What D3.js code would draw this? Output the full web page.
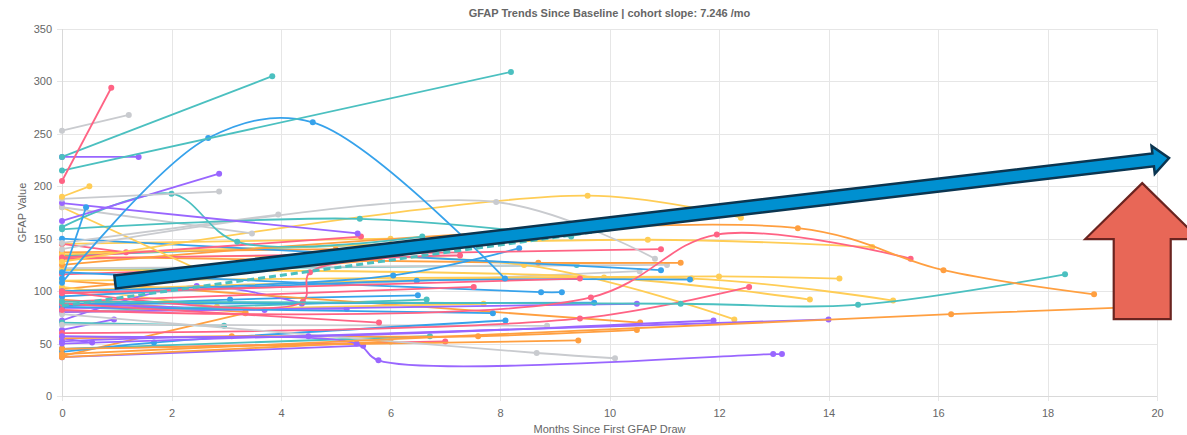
<!DOCTYPE html>
<html>
<head>
<meta charset="utf-8">
<style>
  body { margin: 0; background: #fff; }
  svg text { font-family: "Liberation Sans", Arial, Helvetica, sans-serif; fill: #666; }
</style>
</head>
<body>
<svg width="1187" height="435"></svg>
<script src="https://d3js.org/d3.v7.min.js"></script>
<script>
// ---- data ----
var chartTitle = "GFAP Trends Since Baseline | cohort slope: 7.246 /mo";
var xTicks = [0, 2, 4, 6, 8, 10, 12, 14, 16, 18, 20];
var yTicks = [0, 50, 100, 150, 200, 250, 300, 350];

// one entry per patient: [months since first draw, GFAP value]
var patientSeries = [
  [[0,205],[0.9,294]],
  [[0,253],[1.22,268]],
  [[0,228],[3.84,305]],
  [[0,215],[8.2,309]],
  [[0,228],[1.4,228]],
  [[0,108],[2.67,246],[4.58,261],[8.09,112]],
  [[0,112],[0.44,180]],
  [[0,190],[0.5,200]],
  [[0,188],[2.87,195]],
  [[0,167],[2.87,212]],
  [[0,184],[5.4,155]],
  [[0,161],[2.0,193],[3.2,147],[6.58,152]],
  [[0,159],[5.44,169],[9.3,152]],
  [[0,180],[3.47,155]],
  [[0,146],[3.95,173]],
  [[0,140],[7.93,185],[10.83,131]],
  [[0,128],[9.6,191],[12.4,170]],
  [[0,180],[2.6,118]],
  [[0,125],[13.44,160],[16.1,120],[18.85,97]],
  [[0,82],[9.66,94],[11.96,154],[15.5,131]],
  [[0,90],[11.3,88],[14.54,87],[18.32,116]],
  [[0,40],[16.24,78],[19.7,85]],
  [[0,57],[4.5,57],[11.9,72]],
  [[0,50],[14.0,73]],
  [[0,52],[5.38,50],[5.78,34],[12.99,40],[13.15,40]],
  [[0,78],[8.67,41],[10.1,36]],
  [[0,45],[9.43,53]],
  [[0,55],[3.1,57],[7.6,57],[10.5,63]],
  [[0,131],[10.94,140]],
  [[0,100],[4.4,90],[4.53,118],[7.27,134]],
  [[0,98],[9.46,112]],
  [[0,90],[7.52,104]],
  [[0,60],[9.46,74],[12.55,104]],
  [[0,132],[5.46,152]],
  [[0,88],[5.79,70]],
  [[0,145],[1.17,137]],
  [[0,100],[6.05,115],[8.35,141]],
  [[0,95],[6.48,110],[11.47,111]],
  [[0,118],[8.75,99],[9.13,99]],
  [[0,85],[7.87,79]],
  [[0,42],[1.68,51],[8.1,72]],
  [[0,88],[9.72,89]],
  [[0,150],[10.94,120]],
  [[0,80],[10.5,88]],
  [[0,135],[10.7,149],[14.8,142]],
  [[0,110],[12.0,114],[14.2,112]],
  [[0,120],[9.9,113],[13.66,92]],
  [[0,100],[11.5,112],[15.18,91]],
  [[0,130],[8.44,125],[12.28,73]],
  [[0,80],[7.7,88]],
  [[0,133],[8.7,127],[11.3,127]],
  [[0,110],[10.56,70]],
  [[0,38],[3.35,79]],
  [[0,122],[11.05,125]],
  [[0,95],[10.55,119]],
  [[0,68],[8.86,67]],
  [[0,80],[6.66,92]],
  [[0,45],[6.72,57]],
  [[0,120],[9.4,125]],
  [[0,70],[2.96,67]],
  [[0,63],[0.95,73]],
  [[0,72],[2.46,105],[4.38,88]],
  [[0,88],[3.7,82]],
  [[0,55],[0.55,51]],
  [[0,84],[5.2,83]],
  [[0,86],[3.07,92],[6.5,96]],
  [[0,137],[5.0,140]],
  [[0,134],[6.6,146]],
  [[0,104],[2.83,85]],
  [[0,37],[6.0,52]],
  [[0,37],[5.5,48]],
  [[0,92],[3.35,80]],
  [[0,116],[3.0,121]],
  [[0,145],[6.0,150]],
  [[0,102],[5.8,130]],
  [[0,45],[7.0,52]]
];
// colour key per patient (B blue, R red, O orange, Y yellow, T teal, P purple, G gray)
var patientColor = "RGTTPBBYGPPTTGGGYYORTOPPPGOORRRRRRRRBBBBBBBPYYYYYYOOOGGGTTTTPPPPPBOTYOPORYOR".split("");

// cohort trend (dashed)
var trendPoints = [[0, 86.1], [18.85, 222.7]];

// overlay annotations, in data units
var blueArrow = { from: [0.97, 108.7], to: [20.22, 227] };
var redArrow = { tip: [19.73, 203], headBase: 149.7, bottom: 73.4 };

// ---- chart ----
var palette = {
  B: "#36a2eb", R: "#ff6384", O: "#ff9f40", Y: "#ffcd56",
  T: "#4bc0c0", P: "#9966ff", G: "#c9cbcf"
};

var svg = d3.select("svg"),
    margin = {top: 29, right: 30, bottom: 39, left: 62},
    width = +svg.attr("width") - margin.left - margin.right,
    height = +svg.attr("height") - margin.top - margin.bottom;

var x = d3.scaleLinear().domain([0, 20]).range([margin.left, margin.left + width]);
var y = d3.scaleLinear().domain([0, 350]).range([margin.top + height, margin.top]);

// grid
var grid = svg.append("g").attr("stroke", "#e6e6e6").attr("stroke-width", 1);
grid.selectAll(".vx").data(xTicks).enter().append("line")
    .attr("x1", function(d) { return Math.round(x(d)) + 0.5; })
    .attr("x2", function(d) { return Math.round(x(d)) + 0.5; })
    .attr("y1", margin.top).attr("y2", margin.top + height + 5);
grid.selectAll(".hy").data(yTicks).enter().append("line")
    .attr("y1", function(d) { return Math.round(y(d)) + 0.5; })
    .attr("y2", function(d) { return Math.round(y(d)) + 0.5; })
    .attr("x1", margin.left - 5).attr("x2", margin.left + width);
// axis border lines slightly darker
svg.append("line").attr("stroke", "#d9d9d9")
    .attr("x1", Math.round(x(0)) + 0.5).attr("x2", Math.round(x(0)) + 0.5)
    .attr("y1", margin.top).attr("y2", margin.top + height);
svg.append("line").attr("stroke", "#d9d9d9")
    .attr("x1", margin.left).attr("x2", margin.left + width)
    .attr("y1", Math.round(y(0)) + 0.5).attr("y2", Math.round(y(0)) + 0.5);

// tick labels
var xAxis = svg.append("g")
    .attr("transform", "translate(0," + (margin.top + height) + ")")
    .call(d3.axisBottom(x).tickValues(xTicks).tickSize(0).tickPadding(13));
var yAxis = svg.append("g")
    .attr("transform", "translate(" + margin.left + ",0)")
    .call(d3.axisLeft(y).tickValues(yTicks).tickSize(0).tickPadding(10));
[xAxis, yAxis].forEach(function(a) {
  a.select(".domain").remove();
  a.selectAll("text").attr("fill", "#666").style("font-size", "11px");
});

// lines
var line = d3.line()
    .x(function(d) { return x(d[0]); })
    .y(function(d) { return y(d[1]); })
    .curve(d3.curveCatmullRom.alpha(0.5));

var plot = svg.append("g");
var groups = plot.selectAll(".patient")
    .data(patientSeries.map(function(p, i) { return {pts: p, c: palette[patientColor[i]]}; }).reverse())
    .enter().append("g");

groups.append("path")
    .attr("d", function(d) { return line(d.pts); })
    .attr("fill", "none")
    .attr("stroke", function(d) { return d.c; })
    .attr("stroke-width", 1.8);

groups.selectAll("circle")
    .data(function(d) { return d.pts.map(function(p) { return {p: p, c: d.c}; }); })
    .enter().append("circle")
    .attr("cx", function(d) { return x(d.p[0]); })
    .attr("cy", function(d) { return y(d.p[1]); })
    .attr("r", 3)
    .attr("fill", function(d) { return d.c; });

// cohort trend
plot.append("path")
    .attr("d", d3.line().x(function(d) { return x(d[0]); }).y(function(d) { return y(d[1]); })(trendPoints))
    .attr("fill", "none")
    .attr("stroke", "#4bc0c0")
    .attr("stroke-width", 3)
    .attr("stroke-dasharray", "7,4");

// title + axis titles
svg.append("text")
    .attr("x", x(10)).attr("y", 17)
    .attr("text-anchor", "middle")
    .style("font-size", "11px").style("font-weight", "bold")
    .text(chartTitle);
svg.append("text")
    .attr("x", x(10)).attr("y", 433)
    .attr("text-anchor", "middle")
    .style("font-size", "11px")
    .text("Months Since First GFAP Draw");
svg.append("text")
    .attr("transform", "translate(26," + y(175) + ") rotate(-90)")
    .attr("text-anchor", "middle")
    .style("font-size", "11px")
    .text("GFAP Value");

// ---- annotation arrows ----
(function() {
  var x0 = x(blueArrow.from[0]), y0 = y(blueArrow.from[1]),
      x1 = x(blueArrow.to[0]), y1 = y(blueArrow.to[1]);
  var len = Math.hypot(x1 - x0, y1 - y0),
      ang = Math.atan2(y1 - y0, x1 - x0) * 180 / Math.PI;
  var sw = 6.5, hw = 14, hl = 16;
  var pts = [[0, -sw], [len - hl, -sw], [len - hl, -hw], [len, 0],
             [len - hl, hw], [len - hl, sw], [0, sw]];
  svg.append("polygon")
      .attr("points", pts.map(function(p) { return p.join(","); }).join(" "))
      .attr("transform", "translate(" + x0 + "," + y0 + ") rotate(" + ang + ")")
      .attr("fill", "#0090d0")
      .attr("stroke", "#0b3550")
      .attr("stroke-width", 2.5)
      .attr("stroke-linejoin", "miter");
})();

(function() {
  var cx = x(redArrow.tip[0]), ty = y(redArrow.tip[1]),
      by = y(redArrow.headBase), bot = y(redArrow.bottom);
  var hw = 57, sw = 28.5;
  var pts = [[cx, ty], [cx + hw, by], [cx + sw, by], [cx + sw, bot],
             [cx - sw, bot], [cx - sw, by], [cx - hw, by]];
  svg.append("polygon")
      .attr("points", pts.map(function(p) { return p.join(","); }).join(" "))
      .attr("fill", "#e86757")
      .attr("stroke", "#6a2420")
      .attr("stroke-width", 2.2);
})();
</script>
</body>
</html>
